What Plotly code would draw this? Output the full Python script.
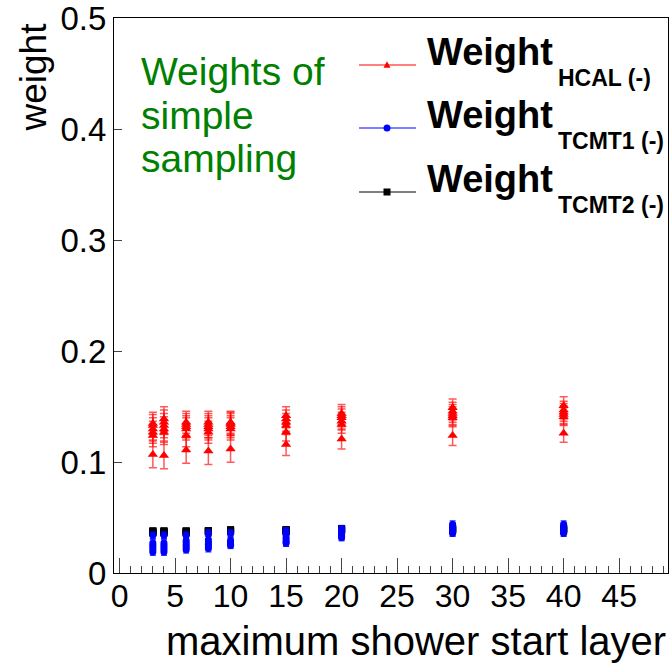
import plotly.graph_objects as go

# ---------------- data ----------------
layers = [3, 4, 6, 8, 10, 15, 20, 30, 40]

hcal_w = [
    [0.107, 0.124, 0.127, 0.130, 0.133, 0.135],
    [0.106, 0.127, 0.130, 0.133, 0.136, 0.139],
    [0.111, 0.124, 0.130, 0.132, 0.134, 0.136],
    [0.110, 0.127, 0.130, 0.132, 0.134, 0.136],
    [0.112, 0.130, 0.132, 0.134, 0.135, 0.136],
    [0.116, 0.127, 0.133, 0.136, 0.139, 0.142],
    [0.121, 0.134, 0.137, 0.140, 0.142, 0.144],
    [0.124, 0.140, 0.142, 0.144, 0.146, 0.149],
    [0.126, 0.141, 0.143, 0.145, 0.147, 0.151],
]
hcal_e = [
    [0.012, 0.010, 0.010, 0.010, 0.010, 0.010],
    [0.012, 0.011, 0.011, 0.011, 0.011, 0.011],
    [0.012, 0.010, 0.010, 0.010, 0.010, 0.010],
    [0.012, 0.010, 0.010, 0.010, 0.010, 0.010],
    [0.012, 0.010, 0.010, 0.010, 0.010, 0.010],
    [0.010, 0.008, 0.008, 0.008, 0.008, 0.008],
    [0.009, 0.008, 0.008, 0.008, 0.008, 0.008],
    [0.009, 0.008, 0.008, 0.008, 0.008, 0.008],
    [0.008, 0.008, 0.008, 0.008, 0.008, 0.008],
]

tcmt1_w = [
    [0.034, 0.027, 0.025, 0.023, 0.021, 0.019],
    [0.034, 0.027, 0.025, 0.023, 0.021, 0.019],
    [0.034, 0.029, 0.027, 0.025, 0.023, 0.021],
    [0.036, 0.030, 0.028, 0.026, 0.024, 0.022],
    [0.036, 0.029, 0.028, 0.027, 0.026, 0.025],
    [0.038, 0.035, 0.032, 0.030, 0.028, 0.027],
    [0.040, 0.038, 0.036, 0.034, 0.033, 0.032],
    [0.044, 0.042, 0.040, 0.038, 0.037, 0.036],
    [0.044, 0.042, 0.040, 0.038, 0.037, 0.036],
]
tcmt1_e = [[0.003, 0.003, 0.003, 0.003, 0.003, 0.003] for _ in layers]

tcmt2_w = [
    [0.036, 0.037, 0.037, 0.037, 0.038, 0.038],
    [0.036, 0.037, 0.037, 0.037, 0.038, 0.038],
    [0.036, 0.037, 0.037, 0.037, 0.038, 0.038],
    [0.037, 0.037, 0.038, 0.038, 0.038, 0.038],
    [0.037, 0.038, 0.038, 0.038, 0.039, 0.039],
    [0.037, 0.038, 0.038, 0.039, 0.039, 0.039],
    [0.038, 0.039, 0.039, 0.039, 0.040, 0.040],
    [0.038, 0.039, 0.039, 0.040, 0.040, 0.040],
    [0.038, 0.039, 0.039, 0.040, 0.040, 0.040],
]
tcmt2_e = [[0.002, 0.002, 0.002, 0.002, 0.002, 0.002] for _ in layers]

series_names = ["HCAL (-)", "TCMT1 (-)", "TCMT2 (-)"]

y_ticks = [0, 0.1, 0.2, 0.3, 0.4, 0.5]
x_title = "maximum shower start layer"
y_title = "weight"
note_lines = ["Weights of", "simple", "sampling"]

# ---------------- layout geometry ----------------
W, H = 672, 663
L, R, T, B = 114, 668, 18, 573  # plot area in pixels


def px(xp):
    return (xp - L) / (R - L)


def py(yp):
    return (B - yp) / (B - T)


def flat(xs, vals):
    ox, oy = [], []
    for x, row in zip(xs, vals):
        for v in row:
            ox.append(x)
            oy.append(v)
    return ox, oy


fig = go.Figure()

hx, hy = flat(layers, hcal_w)
_, he = flat(layers, hcal_e)
fig.add_trace(go.Scatter(
    x=hx, y=hy, mode="markers", name=series_names[0],
    marker=dict(symbol="triangle-up", size=9, color="#ff0000", line=dict(width=0)),
    error_y=dict(type="data", array=he, color="rgba(255,0,0,0.65)", thickness=1.5, width=4),
    showlegend=False,
))

bx, by = flat(layers, tcmt2_w)
_, be = flat(layers, tcmt2_e)
fig.add_trace(go.Scatter(
    x=bx, y=by, mode="markers", name=series_names[2],
    marker=dict(symbol="square", size=7, color="#000000", line=dict(width=0)),
    error_y=dict(type="data", array=be, color="#000000", thickness=1, width=3),
    showlegend=False,
))

cx, cy = flat(layers, tcmt1_w)
_, ce = flat(layers, tcmt1_e)
fig.add_trace(go.Scatter(
    x=cx, y=cy, mode="markers", name=series_names[1],
    marker=dict(symbol="circle", size=7, color="#0000ff", line=dict(width=0)),
    error_y=dict(type="data", array=ce, color="#0000ff", thickness=1, width=3),
    showlegend=False,
))

# ---------------- manual ROOT-style legend ----------------
leg_colors = ["#ff0000", "#0000ff", "#000000"]
row_y = [65, 128, 192]
shapes = []
annotations = []
for i, (name, col, yy) in enumerate(zip(series_names, leg_colors, row_y)):
    shapes.append(dict(type="line", xref="paper", yref="paper",
                       x0=px(359), x1=px(416), y0=py(yy), y1=py(yy),
                       line=dict(color=col, width=1)))
    cxp, s = 387, 3.5
    if i == 0:
        path = "M {} {} L {} {} L {} {} Z".format(
            px(cxp - s), py(yy + s * 0.8), px(cxp + s), py(yy + s * 0.8), px(cxp), py(yy - s * 1.1))
        shapes.append(dict(type="path", xref="paper", yref="paper", path=path,
                           fillcolor=col, line=dict(color=col, width=0)))
    elif i == 1:
        shapes.append(dict(type="circle", xref="paper", yref="paper",
                           x0=px(cxp - s), x1=px(cxp + s), y0=py(yy + s), y1=py(yy - s),
                           fillcolor=col, line=dict(color=col, width=0)))
    else:
        shapes.append(dict(type="rect", xref="paper", yref="paper",
                           x0=px(cxp - s), x1=px(cxp + s), y0=py(yy + s), y1=py(yy - s),
                           fillcolor=col, line=dict(color=col, width=0)))
    annotations.append(dict(text="<b>Weight</b>", xref="paper", yref="paper",
                            x=px(425), y=py(yy - 13), xanchor="left", yanchor="middle",
                            showarrow=False, font=dict(size=38, color="black",
                                                       family="Liberation Sans")))
    annotations.append(dict(text="<b>%s</b>" % name, xref="paper", yref="paper",
                            x=px(556), y=py(yy + 13), xanchor="left", yanchor="middle",
                            showarrow=False, font=dict(size=23, color="black",
                                                       family="Liberation Sans")))

for j, line in enumerate(note_lines):
    annotations.append(dict(text=line, xref="paper", yref="paper",
                            x=px(139), y=py(71 + 44 * j), xanchor="left", yanchor="middle",
                            showarrow=False, font=dict(size=39, color="#008000",
                                                       family="Liberation Sans")))
annotations.append(dict(text=x_title, xref="paper", yref="paper",
                        x=px(668), y=py(641), xanchor="right", yanchor="middle",
                        showarrow=False, font=dict(size=40, color="black",
                                                   family="Liberation Sans")))
annotations.append(dict(text=y_title, xref="paper", yref="paper", textangle=-90,
                        x=px(33), y=py(21), xanchor="center", yanchor="top",
                        showarrow=False, font=dict(size=37, color="black",
                                                   family="Liberation Sans")))

fig.update_layout(
    width=W, height=H,
    margin=dict(l=L, r=W - R, t=T, b=H - B, autoexpand=False),
    paper_bgcolor="white", plot_bgcolor="white",
    showlegend=False,
    shapes=shapes, annotations=annotations,
    font=dict(family="Liberation Sans", color="black"),
)
fig.update_xaxes(
    range=[-0.5, 49.4], dtick=5, tick0=0, ticks="inside", ticklen=15, tickwidth=1,
    tickcolor="#444", showline=True, linecolor="black", linewidth=1, mirror=True,
    showgrid=False, zeroline=False, tickfont=dict(size=32), ticklabelstandoff=-5,
    minor=dict(dtick=1, tick0=0, ticks="inside", ticklen=7, tickcolor="#444", showgrid=False),
)
fig.update_yaxes(
    range=[0, 0.5008], tickvals=y_ticks, ticks="inside", ticklen=8, tickwidth=1,
    tickcolor="#444", showline=True, linecolor="black", linewidth=1, mirror=True,
    showgrid=False, zeroline=False, tickfont=dict(size=33),
)

fig.write_html("out.html")
